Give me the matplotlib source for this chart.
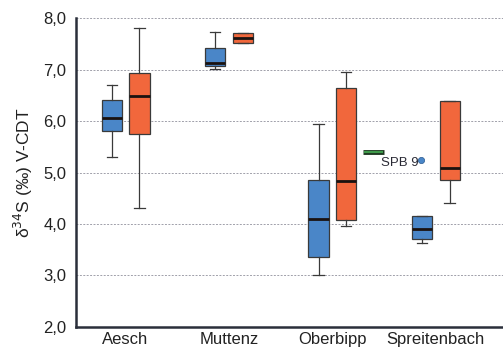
import numpy as np
import matplotlib
matplotlib.use("Agg")
import matplotlib.pyplot as plt

plt.rcParams['font.family'] = ['Liberation Sans', 'DejaVu Sans']

# Standorte und Box-Statistiken (whislo, q1, med, q3, whishi)
sites = ["Aesch", "Muttenz", "Oberbipp", "Spreitenbach"]
blue_stats = [
    (5.30, 5.80, 6.06, 6.41, 6.71),
    (7.01, 7.07, 7.13, 7.43, 7.73),
    (3.01, 3.36, 4.10, 4.85, 5.94),
    (3.63, 3.71, 3.90, 4.15, 4.15),
]
orange_stats = [
    (4.32, 5.74, 6.49, 6.94, 7.81),
    (7.52, 7.52, 7.62, 7.71, 7.71),
    (3.97, 4.08, 4.83, 6.64, 6.96),
    (4.40, 4.85, 5.09, 6.40, 6.40),
]
green_value = 5.40      # Einzelwert neben Oberbipp
spb9_value = 5.24       # Einzelprobe SPB 9

blue = "#4a86c8"
orange = "#f1673c"
edge = "#3a3a3a"


def to_bxp(stats):
    return [dict(whislo=s[0], q1=s[1], med=s[2], q3=s[3], whishi=s[4], fliers=[])
            for s in stats]


fig = plt.figure(figsize=(5.03, 3.5), dpi=100)
ax = fig.add_axes([0.151, 0.066, 0.849, 0.882])

pos = np.arange(len(sites))
for stats, off, col in [(blue_stats, -0.134, blue), (orange_stats, 0.134, orange)]:
    ax.bxp(to_bxp(stats), positions=pos + off, widths=0.195, patch_artist=True,
           showfliers=False,
           boxprops=dict(facecolor=col, edgecolor=edge, linewidth=0.9),
           medianprops=dict(color="#1a1210", linewidth=2),
           whiskerprops=dict(color=edge, linewidth=0.9),
           capprops=dict(color=edge, linewidth=0.9),
           capwidths=0.1)

# gruene Linie und Punkt SPB 9
ax.plot([2.30, 2.50], [green_value, green_value], color="#1f3a22", linewidth=3.5,
        solid_capstyle="butt", zorder=3)
ax.plot([2.31, 2.49], [green_value, green_value], color="#3f9a4a", linewidth=1.5,
        solid_capstyle="butt", zorder=4)
ax.plot([2.86], [spb9_value], "o", color=blue, markersize=4.5,
        markeredgecolor="#2a5a90", markeredgewidth=0.5, zorder=4)
ax.text(2.83, spb9_value - 0.06, "SPB 9", ha="right", va="center",
        fontsize=9.5, color="#2a2a35")

ax.set_xlim(-0.48, 3.65)
ax.set_ylim(2.0, 8.0)
ax.set_xticks(pos)
ax.set_xticklabels(sites, fontsize=12, color="#222222")
yt = np.arange(2, 9)
ax.set_yticks(yt)
ax.set_yticklabels([f"{v:.1f}".replace(".", ",") for v in yt], fontsize=12,
                   color="#222222")
ax.tick_params(axis="y", length=0, pad=7)
ax.tick_params(axis="x", length=0, pad=4)
ax.set_ylabel("δ$^{34}$S (‰) V-CDT", fontsize=12.5, color="#222222", labelpad=6)

ax.yaxis.grid(True, linestyle=(0, (2, 1.5)), color="#a0a0aa", linewidth=0.7)
ax.set_axisbelow(True)
for s in ["top", "right"]:
    ax.spines[s].set_visible(False)
for s in ["left", "bottom"]:
    ax.spines[s].set_linewidth(1.8)
    ax.spines[s].set_color("#2a2f3a")

fig.savefig("out.png", dpi=100)
